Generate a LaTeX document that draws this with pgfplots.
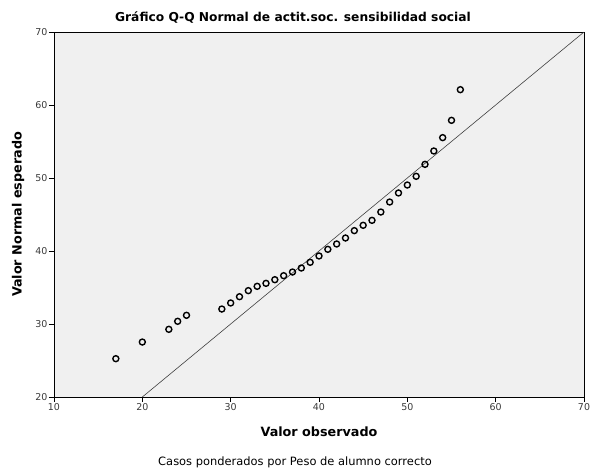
\documentclass[border=0pt]{standalone}
\usepackage{fontspec}
\setmainfont{DejaVu Sans}
\usepackage{pgfplots}
\pgfplotsset{compat=1.18}
\usetikzlibrary{calc}
\definecolor{bgc}{HTML}{F0F0F0}
\definecolor{tickc}{HTML}{3A3A3A}
\begin{document}
\begin{tikzpicture}
\begin{axis}[
  scale only axis,
  width=530bp, height=365bp,
  xmin=10, xmax=70, ymin=20, ymax=70,
  xtick={10,20,...,70}, ytick={20,30,...,70},
  tick align=outside, tick pos=left,
  major tick length=5bp,
  axis background/.style={fill=bgc},
  axis line style={black, line width=0.8bp},
  every tick/.style={black, line width=0.6bp},
  tick label style={font=\fontsize{9.5}{10}\selectfont, text=tickc},
  /pgf/number format/assume math mode=true,
  xticklabel style={yshift=2bp},
  yticklabel style={xshift=2bp},
  clip=false,
]
\coordinate (sw) at (rel axis cs:0,0);
\addplot[draw=black!75, line width=0.6bp] coordinates {(20,20) (70,70)};
\addplot[only marks, mark=o, mark size=3bp, mark options={line width=1.4bp, black}] table {
x y
17 25.25
20 27.53
23 29.27
24 30.37
25 31.19
29 32.05
30 32.88
31 33.74
32 34.57
33 35.16
34 35.57
35 36.07
36 36.62
37 37.12
38 37.67
39 38.45
40 39.32
41 40.23
42 40.96
43 41.78
44 42.79
45 43.52
46 44.20
47 45.34
48 46.71
49 47.95
50 49.04
51 50.23
52 51.87
53 53.70
54 55.53
55 57.90
56 62.10
};
\end{axis}
\node[font=\fontsize{12.3}{14}\selectfont\bfseries] at ($(sw)+(239bp,380bp)$) {Gráfico Q-Q Normal de actit.soc. sensibilidad social};
\node[font=\fontsize{12.8}{14}\selectfont\bfseries, rotate=90] at ($(sw)+(-36bp,182.5bp)$) {Valor Normal esperado};
\node[font=\fontsize{12.8}{14}\selectfont\bfseries] at ($(sw)+(265bp,-35bp)$) {Valor observado};
\node[font=\fontsize{11.5}{13}\selectfont] at ($(sw)+(241bp,-65bp)$) {Casos ponderados por Peso de alumno correcto};
\pgfresetboundingbox
\path[use as bounding box] ($(sw)+(-54bp,-72bp)$) rectangle ($(sw)+(536bp,397bp)$);
\end{tikzpicture}
\end{document}
